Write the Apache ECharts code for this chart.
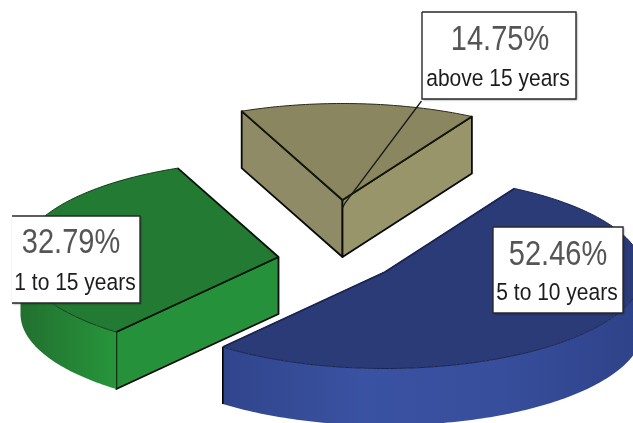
<!DOCTYPE html>
<html>
<head>
<meta charset="utf-8">
<style>html,body{margin:0;padding:0;background:#fff}#chart{width:633px;height:423px}</style>
<script src="https://cdn.jsdelivr.net/npm/echarts@6/dist/echarts.min.js"></script>
</head>
<body>
<div id="chart"></div>
<script>
// Tenure shares, in percent
const categories = ['above 15 years', '1 to 15 years', '5 to 10 years'];
const shares = [14.75, 32.79, 52.46];

// Projection of the tilted pie
const RX = 258, RY = 96.5, DEPTH = 57, START_ANGLE = -23;

// Where each exploded wedge has its tip
const tips = [[342.5, 200], [278.5, 257], [385, 272]];

const faces = [
  { top: '#8a8660', start: '#8f8b66', end: '#99956b', edge: '#141408', rim: ['#8f8b66', '#8f8b66'], rimLine: '#2b2a1a', corner: '#000' },
  { top: '#237a33', start: '#25913a', end: '#25913a', edge: '#06150a', rim: ['#22702f', '#27953b'], rimLine: '#123d1a', corner: '#000' },
  { top: '#2b3b78', start: '#2f4488', end: '#2f4488', edge: '#1a2450', rim: ['#30458c', '#3a52a2', '#374e9c', '#2e4288'], rimLine: '#1a2450', corner: '#000' }
];

// Callout boxes: x, y, w, h, text centres relative to the box, and which borders are drawn
const callouts = [
  { box: [422, 12, 154, 87], big: [78, 28], small: [76, 67], open: false, leader: [[421.5, 101], [345, 203], [342.5, 208]] },
  { box: [12, 216, 128, 87], big: [59, 27], small: [63, 67], open: true },
  { box: [493, 227, 130, 86], big: [65, 28], small: [64, 66], open: false }
];

const rad = d => d * Math.PI / 180;
const total = shares.reduce((a, b) => a + b, 0);

function ringPoint(tip, deg, drop) {
  return [tip[0] + RX * Math.sin(rad(deg)), tip[1] - RY * Math.cos(rad(deg)) + (drop || 0)];
}
function arcPoints(tip, a, b, drop) {
  const n = Math.max(2, Math.ceil(Math.abs(b - a)));
  const pts = [];
  for (let i = 0; i <= n; i++) pts.push(ringPoint(tip, a + (b - a) * i / n, drop));
  return pts;
}
function gradient(colors) {
  return new echarts.graphic.LinearGradient(0, 0, 1, 0,
    colors.map((c, i) => ({ offset: i / (colors.length - 1), color: c })));
}

// Draws one wedge: the visible cut faces, the visible rim, then the top
function renderSlice(params, api) {
  const i = params.dataIndex;
  // The first wedge opens at START_ANGLE; the other two continue either side of it
  let a, b;
  const sweep = api.value(0) / total * 360;
  const firstSweep = shares[0] / total * 360;
  if (i === 0) { a = START_ANGLE; b = a + sweep; }
  else if (i === 1) { b = START_ANGLE; a = b - sweep; }
  else { a = START_ANGLE + firstSweep; b = a + sweep; }

  const tip = tips[i], f = faces[i], kids = [];
  const tipLow = [tip[0], tip[1] + DEPTH];
  const quad = (deg, fill) => ({
    type: 'polygon',
    shape: { points: [tip, ringPoint(tip, deg), ringPoint(tip, deg, DEPTH), tipLow] },
    style: { fill, stroke: '#0a0a0a', lineWidth: 1.8, lineJoin: 'round' }
  });
  if (Math.sin(rad(a)) < 0) kids.push(quad(a, f.start));
  if (Math.sin(rad(b)) > 0) kids.push(quad(b, f.end));

  // The rim shows only across the front half of the ellipse
  const ranges = [[90, 270], [-270, -90]];
  ranges.forEach(([lo, hi]) => {
    const s = Math.max(a, lo), e = Math.min(b, hi);
    if (e > s) {
      const upper = arcPoints(tip, s, e, 0);
      const lower = arcPoints(tip, e, s, DEPTH);
      kids.push({
        type: 'polygon',
        shape: { points: upper.concat(lower) },
        style: { fill: gradient(f.rim) }
      });
      // Dark vertical where the rim meets a hidden cut face
      if (Math.sin(rad(b)) < 0 && e === b) {
        const p = ringPoint(tip, b), q = ringPoint(tip, b, DEPTH);
        kids.push({
          type: 'line',
          shape: { x1: p[0], y1: p[1], x2: q[0], y2: q[1] },
          style: { stroke: f.corner, lineWidth: 1.6 }
        });
      }
    }
  });

  kids.push({
    type: 'polygon',
    shape: { points: [tip].concat(arcPoints(tip, a, b, 0)) },
    style: { fill: f.top, stroke: f.rimLine, lineWidth: 1 }
  });
  // Heavy straight edges on the top face
  [a, b].forEach(deg => {
    const p = ringPoint(tip, deg);
    kids.push({
      type: 'line',
      shape: { x1: tip[0], y1: tip[1], x2: p[0], y2: p[1] },
      style: { stroke: f.edge, lineWidth: 1.8 }
    });
  });
  return { type: 'group', children: kids };
}

// Draws one callout: leader line, white box, percentage and category name
function renderCallout(params, api) {
  const i = params.dataIndex, c = callouts[i];
  const [x, y, w, h] = c.box;
  const kids = [];
  if (c.leader) {
    kids.push({
      type: 'polyline',
      shape: { points: c.leader },
      style: { fill: 'none', stroke: '#1a1a1a', lineWidth: 1.3 }
    });
  }
  kids.push({
    type: 'rect',
    shape: { x, y, width: w, height: h },
    style: { fill: '#fff', shadowColor: 'rgba(0,0,0,0.45)', shadowBlur: 2, shadowOffsetX: 1, shadowOffsetY: 1 }
  });
  const border = c.open
    ? [[x, y], [x + w, y], [x + w, y + h], [x, y + h]]
    : [[x, y], [x + w, y], [x + w, y + h], [x, y + h], [x, y]];
  kids.push({
    type: 'polyline',
    shape: { points: border },
    style: { fill: 'none', stroke: '#2a2a2a', lineWidth: 1.4 }
  });
  kids.push({
    type: 'text', x: x + c.big[0], y: y + c.big[1], scaleY: 1.2,
    style: {
      text: api.value(0).toFixed(2) + '%', fontFamily: 'Liberation Sans, Arial, sans-serif',
      fontSize: 29, fill: '#555', align: 'center', verticalAlign: 'middle'
    }
  });
  kids.push({
    type: 'text', x: x + c.small[0], y: y + c.small[1], scaleY: 1.15,
    style: {
      text: categories[i], fontFamily: 'Liberation Sans, Arial, sans-serif',
      fontSize: 21, fill: '#1c1c1c', align: 'center', verticalAlign: 'middle'
    }
  });
  return { type: 'group', children: kids };
}

const chart = echarts.init(document.getElementById('chart'), null, { renderer: 'canvas' });
chart.setOption({
  animation: false,
  backgroundColor: '#fff',
  series: [
    { type: 'custom', coordinateSystem: 'none', z: 2, silent: true, clip: false,
      data: shares.map(v => [v]), renderItem: renderSlice },
    { type: 'custom', coordinateSystem: 'none', z: 3, silent: true, clip: false,
      data: shares.map(v => [v]), renderItem: renderCallout }
  ]
});
</script>
</body>
</html>
